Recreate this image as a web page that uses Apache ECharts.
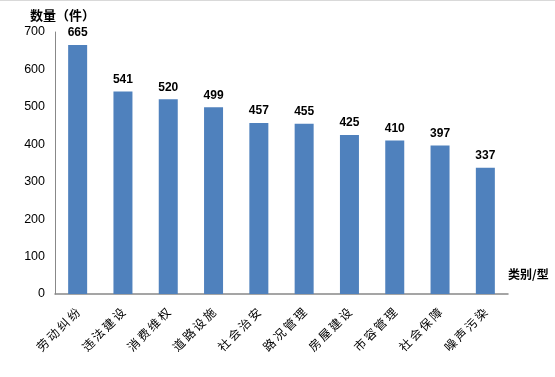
<!DOCTYPE html>
<html><head><meta charset="utf-8">
<script src="https://cdn.jsdelivr.net/npm/echarts@6/dist/echarts.min.js"></script>
<style>html,body{margin:0;padding:0;background:#fff}#c{width:555px;height:377px;box-sizing:border-box;border-top:1px solid #d9d9d9}</style>
</head><body><div id="c"></div>
<script>
const categories = ['劳动纠纷','违法建设','消费维权','道路设施','社会治安','路况管理','房屋建设','市容管理','社会保障','噪声污染'];
const values = [665,541,520,499,457,455,425,410,397,337];
const yTicks = [0,100,200,300,400,500,600,700];
const chart = echarts.init(document.getElementById('c'));
const font = '"Noto Sans CJK SC", "DejaVu Sans", sans-serif';
chart.setOption({
  animation:false,
  grid:{left:55,right:47,top:31,bottom:83},
  xAxis:{type:'category',data:categories,
    name:'类别/型',nameLocation:'end',nameGap:0,
    nameTextStyle:{fontFamily:font,fontWeight:'bold',fontSize:12,color:'#000',align:'left',verticalAlign:'bottom',padding:[0,0,14,0]},
    axisLine:{lineStyle:{color:'#888',width:1.5}},axisTick:{show:false},
    axisLabel:{rotate:45,interval:0,fontFamily:font,fontSize:12,color:'#000',margin:16,
      formatter:v=>v.split('').join('\u2009')}},
  yAxis:{type:'value',min:yTicks[0],max:yTicks[yTicks.length-1],interval:100,
    name:'数量（件）',nameLocation:'end',nameGap:10,
    nameTextStyle:{fontFamily:font,fontWeight:'bold',fontSize:13,color:'#000',align:'left',padding:[0,0,0,-25]},
    axisLine:{show:true,lineStyle:{color:'#888',width:1}},axisTick:{show:false},splitLine:{show:false},
    axisLabel:{fontFamily:'Arial, "Liberation Sans", sans-serif',fontSize:12.5,color:'#000',margin:10}},
  series:[{type:'bar',data:values,barWidth:19,itemStyle:{color:'#4f81bd'},
    label:{show:true,position:'top',distance:6,fontFamily:'Arial, "Liberation Sans", sans-serif',fontWeight:'bold',fontSize:12,color:'#000'}}]
});
</script></body></html>
